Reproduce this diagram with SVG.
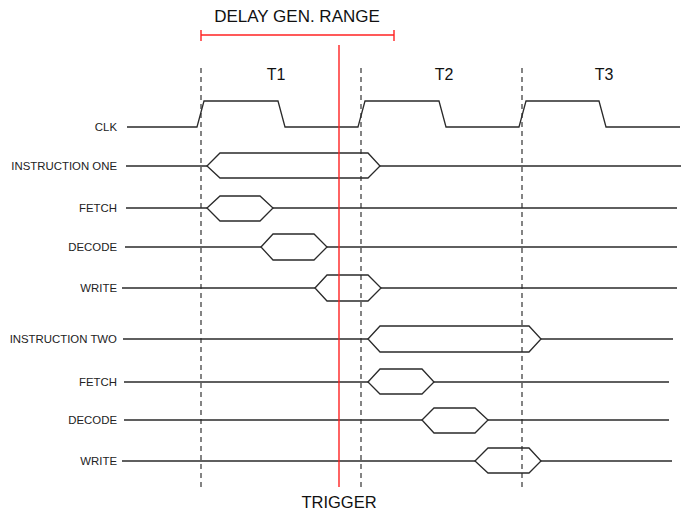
<svg xmlns="http://www.w3.org/2000/svg" width="687" height="510" viewBox="0 0 687 510">
<style>
  .sig{fill:none;stroke:#2a2a2a;stroke-width:1.3;stroke-linejoin:miter}
  .dash{fill:none;stroke:#333;stroke-width:1.2;stroke-dasharray:5,4}
  .red{fill:none;stroke:#f22;stroke-width:1.4}
  .lbl{font-family:"Liberation Sans",Arial,sans-serif;font-size:11.4px;fill:#222;text-anchor:end}
  .big{font-family:"Liberation Sans",Arial,sans-serif;font-size:16px;fill:#111;text-anchor:middle}
</style>
<rect width="687" height="510" fill="#fff"/>
<g id="gridlines">
  <line class="dash" x1="201" y1="68" x2="201" y2="488"/>
  <line class="dash" x1="361" y1="68" x2="361" y2="488"/>
  <line class="dash" x1="522" y1="68" x2="522" y2="488"/>
</g>
<g id="period-labels">
  <text class="big" x="276" y="80">T1</text>
  <text class="big" x="444" y="80">T2</text>
  <text class="big" x="604" y="80">T3</text>
</g>
<g id="delay-range">
  <text class="big" x="297" y="22" style="font-size:17px">DELAY GEN. RANGE</text>
  <line class="red" x1="201" y1="35" x2="394" y2="35"/>
  <line class="red" x1="201" y1="30" x2="201" y2="41"/>
  <line class="red" x1="394" y1="30" x2="394" y2="41"/>
</g>
<g id="clk">
  <text class="lbl" x="117" y="131">CLK</text>
  <polyline class="sig" points="127,127 197,127 204,101 278,101 285,127 358,127 365,101 439,101 446,127 519,127 526,101 599,101 606,127 680,127"/>
</g>
<g id="instruction-one">
  <text class="lbl" x="117" y="170">INSTRUCTION ONE</text>
  <polyline class="sig" points="126,166 207,166"/>
  <polygon class="sig" points="207,166 220,153 368,153 380,166 368,178 220,178"/>
  <polyline class="sig" points="380,166 681,166"/>
</g>
<g id="fetch-one">
  <text class="lbl" x="117" y="212">FETCH</text>
  <polyline class="sig" points="126,208 207,208"/>
  <polygon class="sig" points="207,208 220,196 260,196 273,208 260,221 220,221"/>
  <polyline class="sig" points="273,208 677,208"/>
</g>
<g id="decode-one">
  <text class="lbl" x="117" y="251">DECODE</text>
  <polyline class="sig" points="125,247 261,247"/>
  <polygon class="sig" points="261,247 273,234 314,234 327,247 314,260 273,260"/>
  <polyline class="sig" points="327,247 677,247"/>
</g>
<g id="write-one">
  <text class="lbl" x="117" y="292">WRITE</text>
  <polyline class="sig" points="122,288 315,288"/>
  <polygon class="sig" points="315,288 327,275 368,275 381,288 368,301 327,301"/>
  <polyline class="sig" points="381,288 677,288"/>
</g>
<g id="instruction-two">
  <text class="lbl" x="117" y="343">INSTRUCTION TWO</text>
  <polyline class="sig" points="123,339 368,339"/>
  <polygon class="sig" points="368,339 380,326 529,326 541,339 529,352 380,352"/>
  <polyline class="sig" points="541,339 673,339"/>
</g>
<g id="fetch-two">
  <text class="lbl" x="117" y="386">FETCH</text>
  <polyline class="sig" points="124,382 368,382"/>
  <polygon class="sig" points="368,382 380,369 422,369 434,382 422,394 380,394"/>
  <polyline class="sig" points="434,382 669,382"/>
</g>
<g id="decode-two">
  <text class="lbl" x="117" y="424">DECODE</text>
  <polyline class="sig" points="124,420 422,420"/>
  <polygon class="sig" points="422,420 434,408 475,408 488,420 475,433 434,433"/>
  <polyline class="sig" points="488,420 669,420"/>
</g>
<g id="write-two">
  <text class="lbl" x="117" y="465">WRITE</text>
  <polyline class="sig" points="122,461 475,461"/>
  <polygon class="sig" points="475,461 488,448 529,448 541,461 529,473 488,473"/>
  <polyline class="sig" points="541,461 672,461"/>
</g>
<g id="trigger">
  <line class="red" x1="339" y1="45" x2="339" y2="487"/>
  <text class="big" x="339" y="508" style="font-size:16.5px">TRIGGER</text>
</g>
</svg>
